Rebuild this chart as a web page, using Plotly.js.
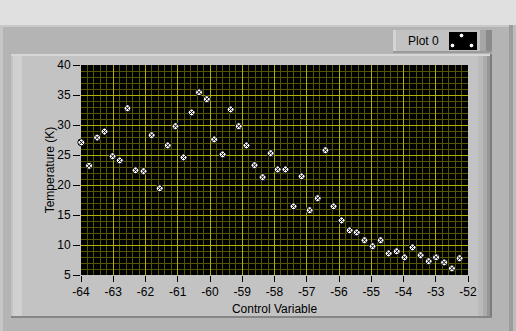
<!DOCTYPE html>
<html>
<head>
<meta charset="utf-8">
<script src="https://cdn.plot.ly/plotly-3.0.1.min.js"></script>
<style>html,body{margin:0;padding:0;background:#e0e0e0;}#chart{width:516px;height:331px;}</style>
</head>
<body>
<div id="chart"></div>
<script>
const controlVariable = [-63.99,-63.75,-63.50,-63.27,-63.02,-62.80,-62.56,-62.31,-62.06,-61.81,-61.56,-61.31,-61.07,-60.82,-60.57,-60.34,-60.10,-59.87,-59.61,-59.36,-59.11,-58.87,-58.62,-58.37,-58.12,-57.90,-57.66,-57.41,-57.16,-56.91,-56.66,-56.42,-56.17,-55.92,-55.67,-55.45,-55.21,-54.96,-54.71,-54.46,-54.21,-53.97,-53.72,-53.47,-53.22,-52.99,-52.74,-52.50,-52.26];
const temperature = [27.1,23.2,27.9,28.9,24.8,24.1,32.8,22.45,22.3,28.3,19.45,26.6,29.8,24.6,32.1,35.45,34.3,27.6,25.1,32.6,29.8,26.6,23.3,21.3,25.3,22.6,22.6,16.45,21.45,15.8,17.8,25.8,16.45,14.1,12.45,12.1,10.8,9.8,10.8,8.6,8.95,7.95,9.6,8.3,7.3,7.95,7.1,6.1,7.8];
const xTickVals = [-64,-63,-62,-61,-60,-59,-58,-57,-56,-55,-54,-53,-52];
const xTickText = ["-64","-63","-62","-61","-60","-59","-58","-57","-56","-55","-54","-53","-52"];
const yTickVals = [5,10,15,20,25,30,35,40];
const yTickText = ["5","10","15","20","25","30","35","40"];
const seriesName = "Plot 0";

const W = 516, H = 331;
const M = {l: 81, r: 48, t: 65, b: 56};
const PW = W - M.l - M.r, PH = H - M.t - M.b;
const px = x => (x - M.l) / PW;
const py = y => (H - M.b - y) / PH;
function rect(x0, y0, x1, y1, fill, layer) {
  return {type: 'rect', xref: 'paper', yref: 'paper', x0: px(x0), x1: px(x1), y0: py(y1), y1: py(y0),
          fillcolor: fill, line: {width: 0}, layer: layer || 'below'};
}
function dot(cx, cy, r) {
  return {type: 'circle', xref: 'paper', yref: 'paper', x0: px(cx - r), x1: px(cx + r), y0: py(cy + r), y1: py(cy - r),
          fillcolor: '#ffffff', line: {width: 1, color: '#000000'}, layer: 'above'};
}

const shapes = [
  rect(0, 25, 516, 331, '#b4b4b4'),
  rect(0, 25, 516, 27, '#c8c8c8'),
  rect(0, 25, 3, 331, '#c6c6c6'),
  rect(509, 25, 513, 331, '#9c9c9c'),
  rect(513, 25, 516, 331, '#bcbcbc'),
  // inner panel
  rect(11, 54, 492, 318, '#c3c3c3'),
  rect(11, 54, 492, 56, '#d6d6d6'),
  rect(13, 56, 22, 316, '#d0d0d0'),
  rect(478, 56, 483, 316, '#bababa'),
  rect(483, 56, 487, 316, '#ababab'),
  rect(487, 56, 490, 316, '#969696'),
  rect(490, 54, 492, 318, '#7c7c7c'),
  rect(11, 316, 492, 318, '#858585'),
  // legend box
  rect(393, 30, 492, 53, '#c2c2c2'),
  rect(393, 30, 396, 53, '#d4d4d4'),
  rect(480, 30, 486, 53, '#a6a6a6'),
  rect(486, 30, 492, 53, '#8a8a8a'),
  rect(393, 51, 492, 53, '#9a9a9a'),
  rect(449, 32, 477, 50, '#000000'),
  // plot area
  rect(81, 65, 468, 275, '#000000'),
  dot(461.5, 35.5, 2.3), dot(452.5, 45.5, 2.3), dot(471.5, 45.5, 2.3)
];

const fineGridHolder = {type: 'scatter', mode: 'markers', x: [], y: [], xaxis: 'x', yaxis: 'y', showlegend: false, hoverinfo: 'skip'};
const trace = {
  type: 'scatter', mode: 'markers', name: seriesName,
  x: controlVariable, y: temperature, xaxis: 'x2', yaxis: 'y2',
  marker: {symbol: 'circle-x', size: 7, color: '#ffffff', line: {color: '#000000', width: 1}},
  showlegend: false, cliponaxis: false
};

const font = {family: 'Liberation Sans, Arial, sans-serif', size: 12, color: '#000000'};
const majorGrid = 'rgb(176,176,0)';
const minorGrid = 'rgb(86,86,0)';
const layout = {
  width: W, height: H,
  margin: M,
  paper_bgcolor: '#e0e0e0', plot_bgcolor: '#000000',
  font: font,
  showlegend: false,
  // fine grid
  xaxis: {
    range: [-64, -52], tick0: -64, dtick: 0.2, showticklabels: false, ticks: '',
    showgrid: true, gridcolor: minorGrid, gridwidth: 1,
    zeroline: false, showline: false, fixedrange: true
  },
  yaxis: {
    range: [5, 40], tick0: 5, dtick: 1, showticklabels: false, ticks: '',
    showgrid: true, gridcolor: minorGrid, gridwidth: 1,
    zeroline: false, showline: false, fixedrange: true
  },
  // labelled axes with major grid
  xaxis2: {
    overlaying: 'x', anchor: 'y2', side: 'bottom',
    range: [-64, -52], tickvals: xTickVals, ticktext: xTickText,
    ticks: 'outside', ticklen: 6, tickcolor: '#000000', tickwidth: 1,
    showgrid: true, gridcolor: majorGrid, gridwidth: 1,
    zeroline: false, showline: false, fixedrange: true,
    title: {text: 'Control Variable', font: font, standoff: 6}
  },
  yaxis2: {
    overlaying: 'y', anchor: 'x2', side: 'left',
    range: [5, 40], tickvals: yTickVals, ticktext: yTickText,
    ticks: 'outside', ticklen: 7, tickcolor: '#000000', tickwidth: 1,
    showgrid: true, gridcolor: majorGrid, gridwidth: 1,
    zeroline: false, showline: false, fixedrange: true,
    title: {text: 'Temperature (K)', font: font, standoff: 0}
  },
  shapes: shapes,
  annotations: [
    {text: seriesName, xref: 'paper', yref: 'paper', x: px(423), y: py(41.5), xanchor: 'center', yanchor: 'middle',
     showarrow: false, font: font}
  ]
};

Plotly.newPlot('chart', [fineGridHolder, trace], layout, {staticPlot: true, displayModeBar: false});
</script>
</body>
</html>
